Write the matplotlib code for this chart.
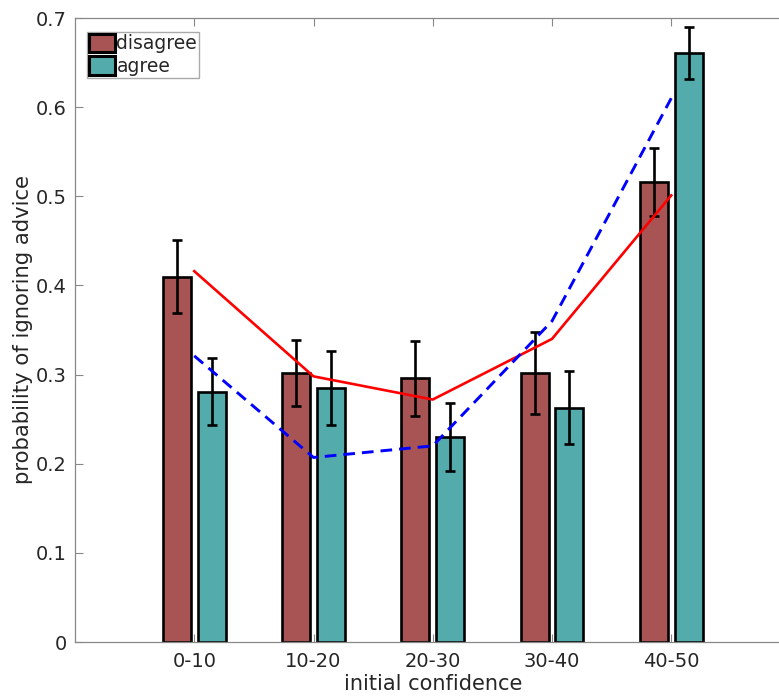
import numpy as np
import matplotlib.pyplot as plt

# probability of ignoring advice, by initial confidence bin
categories = ['0-10', '10-20', '20-30', '30-40', '40-50']
disagree = [0.410, 0.302, 0.296, 0.302, 0.516]
disagree_err = [0.041, 0.037, 0.042, 0.046, 0.038]
agree = [0.281, 0.285, 0.230, 0.263, 0.661]
agree_err = [0.038, 0.042, 0.038, 0.041, 0.029]

# model fits
fit_disagree = [0.416, 0.298, 0.272, 0.340, 0.501]
fit_agree = [0.321, 0.207, 0.220, 0.360, 0.610]

red_col = (0.66, 0.33, 0.33)
teal_col = (0.33, 0.67, 0.67)
text_col = '#262626'

fig = plt.figure(figsize=(7.79, 6.97), dpi=100)
ax = fig.add_axes([75 / 779, 55 / 697, 715.5 / 779, 624 / 697])

x = np.arange(1, len(categories) + 1)
off = 0.145
w = 0.235

ax.bar(x - off, disagree, w, color=red_col, edgecolor='black', linewidth=1.9,
       label='disagree', zorder=2)
ax.bar(x + off, agree, w, color=teal_col, edgecolor='black', linewidth=1.9,
       label='agree', zorder=2)
ax.errorbar(x - off, disagree, yerr=disagree_err, fmt='none', ecolor='black',
            elinewidth=1.9, capsize=3.8, capthick=1.9, zorder=3)
ax.errorbar(x + off, agree, yerr=agree_err, fmt='none', ecolor='black',
            elinewidth=1.9, capsize=3.8, capthick=1.9, zorder=3)

ax.plot(x, fit_disagree, color='red', linewidth=1.9, zorder=4)
ax.plot(x, fit_agree, color='blue', linewidth=2.1, linestyle=(0, (4.0, 2.4)), zorder=4)

ax.set_xlim(0, 6)
ax.set_ylim(0, 0.7)
ax.set_xticks(x)
ax.set_xticklabels(categories)
ax.set_yticks(np.arange(0, 0.71, 0.1))
ax.set_yticklabels(['0', '0.1', '0.2', '0.3', '0.4', '0.5', '0.6', '0.7'])

for s in ['left', 'bottom', 'top']:
    ax.spines[s].set_color('#888888')
    ax.spines[s].set_linewidth(0.9)
ax.spines['right'].set_visible(False)
ax.tick_params(direction='in', length=6, width=0.8, color='#888888',
               labelsize=14, labelcolor=text_col, top=True)
ax.tick_params(axis='x', pad=7)
ax.tick_params(axis='y', pad=6)

ax.set_xlabel('initial confidence', fontsize=15, color=text_col, labelpad=2)
ax.set_ylabel('probability of ignoring advice', fontsize=15.2, color=text_col, labelpad=2)

leg = ax.legend(loc='upper left', bbox_to_anchor=(0.012, 0.984), fontsize=13.5,
                handlelength=1.4, handleheight=1.15, handletextpad=0.05,
                borderpad=0.1, labelspacing=0.15, fancybox=False,
                edgecolor='#aaaaaa', framealpha=1, borderaxespad=0.2)
leg.get_frame().set_linewidth(1.0)
for t in leg.get_texts():
    t.set_color(text_col)
for h in leg.legend_handles:
    h.set_linewidth(2.2)

fig.savefig('out.png', dpi=100)
